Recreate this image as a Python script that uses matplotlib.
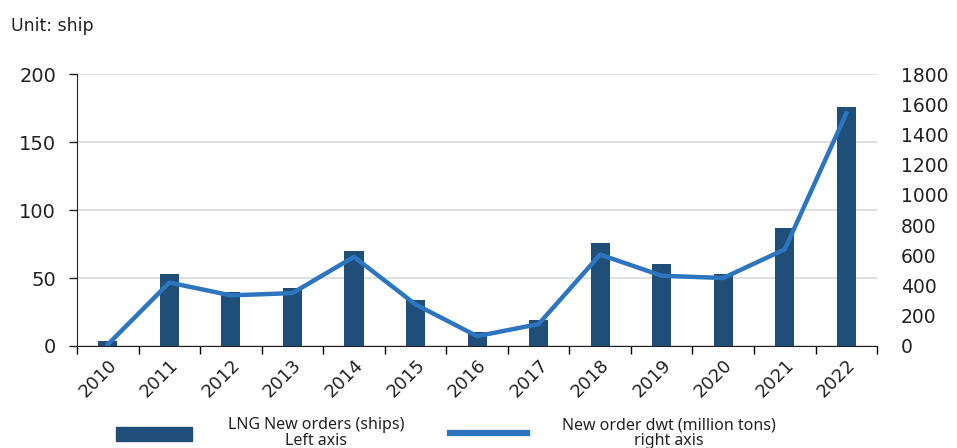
import numpy as np
import matplotlib.pyplot as plt
from matplotlib.lines import Line2D
from matplotlib.patches import Patch

years = ['2010', '2011', '2012', '2013', '2014', '2015', '2016',
         '2017', '2018', '2019', '2020', '2021', '2022']
ships = [4, 53, 40, 43, 70, 34, 10, 19, 76, 60, 53, 87, 176]        # 左轴
dwt = [10, 420, 335, 350, 590, 275, 65, 145, 605, 465, 450, 640, 1540]  # 右轴

BAR_COLOR = '#1f4e79'
LINE_COLOR = '#2e75c0'
TEXT_COLOR = '#222222'

plt.rcParams['font.family'] = ['DejaVu Sans']

fig = plt.figure(figsize=(9.57, 4.48), dpi=100)
ax = fig.add_axes([0.0805, 0.2277, 0.836, 0.607])
ax2 = ax.twinx()

x = np.arange(len(years))
ax.bar(x, ships, width=0.31, color=BAR_COLOR, zorder=2)
ax2.plot(x, dwt, color=LINE_COLOR, linewidth=3.2, zorder=3)

# 左轴
ax.set_xlim(-0.5, len(years) - 0.5)
ax.set_ylim(0, 200)
ax.set_yticks([0, 50, 100, 150, 200])
ax.tick_params(axis='y', labelsize=14, length=6, width=1, colors=TEXT_COLOR, pad=9)
ax.yaxis.grid(True, color='#d9d9d9', linewidth=1.2, zorder=0)
ax.set_axisbelow(True)

# 右轴
ax2.set_ylim(0, 1800)
ax2.set_yticks(range(0, 1801, 200))
ax2.tick_params(axis='y', labelsize=13.5, length=0, colors=TEXT_COLOR, pad=17)

# x轴：刻度在类别之间
ax.set_xticks(x)
ax.set_xticklabels(years, rotation=45, ha='right', rotation_mode='anchor', fontsize=13)
ax.tick_params(axis='x', length=0, pad=7, colors=TEXT_COLOR)
ax.set_xticks(np.arange(-0.5, len(years)), minor=True)
ax.tick_params(axis='x', which='minor', length=6, width=1, direction='out')

for a in (ax, ax2):
    for s in ('top', 'right'):
        a.spines[s].set_visible(False)
ax2.spines['left'].set_visible(False)
ax2.spines['bottom'].set_visible(False)
ax.spines['left'].set_color(TEXT_COLOR)
ax.spines['bottom'].set_color(TEXT_COLOR)

fig.text(0.011, 0.942, 'Unit: ship', fontsize=12.5, color=TEXT_COLOR, va='center')

handles = [Patch(color=BAR_COLOR), Line2D([0], [0], color=LINE_COLOR, linewidth=4.5)]
labels = ['LNG New orders (ships)\nLeft axis', 'New order dwt (million tons)\nright axis']
leg = fig.legend(handles, labels, loc='center', bbox_to_anchor=(0.466, 0.033), ncol=2,
                 frameon=False, handlelength=4.8, handleheight=1.0,
                 columnspacing=2.9, handletextpad=2.2, labelspacing=0.3,
                 prop={'family': ['Noto Sans', 'DejaVu Sans'], 'size': 11.5})
for t in leg.get_texts():
    t.set_multialignment('center')
    t.set_color(TEXT_COLOR)
    t.set_linespacing(1.0)

fig.savefig('out.png', dpi=100)
